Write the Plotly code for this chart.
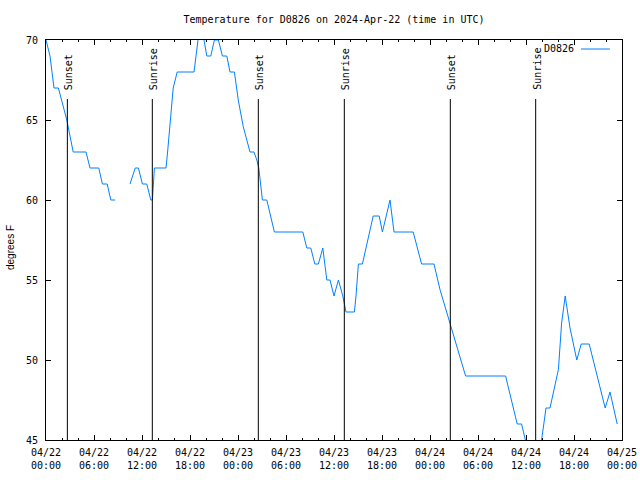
import pandas as pd
import plotly.graph_objects as go

# ---- data (hours since 2024-04-22 00:00 UTC) ----
hours = [0.0, 0.5, 1.0, 1.55, 2.6, 3.4, 5.0, 5.5, 6.6, 7.05, 7.65, 8.1, 8.65, 9.5,
         10.5, 11.15, 11.55, 12.05, 12.6, 13.1, 13.3, 13.55, 15.0, 15.2, 15.9, 16.4,
         18.5, 19.0, 19.4, 19.75, 20.1, 20.6, 21.05, 21.55, 22.05, 22.6, 23.0, 23.55,
         24.05, 24.65, 25.5, 26.0, 26.35, 26.6, 27.05, 27.6, 28.55, 32.1, 32.6, 33.1,
         33.6, 34.05, 34.6, 35.1, 35.5, 36.0, 36.55, 37.1, 37.5, 38.55, 38.75, 39.05,
         39.55, 40.9, 41.65, 42.05, 43.0, 43.5, 45.9, 46.95, 48.5, 49.25, 50.5, 51.25,
         52.45, 57.45, 58.9, 59.45, 59.95, 60.4, 61.5, 61.95, 62.5, 63.0, 64.05, 64.45,
         64.9, 65.5, 66.35, 66.9, 67.9, 69.9, 70.5, 71.4]
temps = [70, 69, 67, 67, 65, 63, 63, 62, 62, 61, 61, 60, 60, None,
         61, 62, 62, 61, 61, 60, 60, 62, 62, 63, 67, 68,
         68, 70, 71, 70, 69, 69, 70, 70, 69, 69, 68, 68,
         66.2, 64.6, 63, 63, 62.5, 62, 60, 60, 58, 58, 57, 57,
         56, 56, 57, 55, 55, 54, 55, 54, 53, 53, 54, 56,
         56, 59, 59, 58, 60, 58, 58, 56, 56, 54.4, 52.3, 51,
         49, 49, 46, 46, 45, 44, 44, 45, 47, 47, 49.4, 52.3,
         54, 52, 50, 51, 51, 47, 48, 46]

sun_hours = [2.67, 13.29, 26.54, 37.29, 50.54, 61.21]
sun_labels = ["Sunset", "Sunrise", "Sunset", "Sunrise", "Sunset", "Sunrise"]

tick_hours = [0, 6, 12, 18, 24, 30, 36, 42, 48, 54, 60, 66, 72]
tick_labels = ["04/22<br>00:00", "04/22<br>06:00", "04/22<br>12:00", "04/22<br>18:00",
               "04/23<br>00:00", "04/23<br>06:00", "04/23<br>12:00", "04/23<br>18:00",
               "04/24<br>00:00", "04/24<br>06:00", "04/24<br>12:00", "04/24<br>18:00",
               "04/25<br>00:00"]
y_ticks = [45, 50, 55, 60, 65, 70]

base = pd.Timestamp("2024-04-22 00:00")
to_time = lambda hs: [base + pd.Timedelta(hours=h) for h in hs]

MONO = "DejaVu Sans Mono"
BLUE = "#0080ff"

fig = go.Figure()
fig.add_trace(go.Scatter(x=to_time(hours), y=temps, mode="lines",
                         line=dict(color=BLUE, width=1), connectgaps=False,
                         name="D0826", showlegend=False))

shapes = []
annotations = []
for t, lab in zip(to_time(sun_hours), sun_labels):
    shapes.append(dict(type="line", xref="x", yref="paper", x0=t, x1=t, y0=0, y1=0.8525,
                       line=dict(color="black", width=1)))
    annotations.append(dict(x=t, y=0.87, xref="x", yref="paper", text=lab, textangle=-90,
                            showarrow=False, xanchor="center", yanchor="bottom", xshift=1,
                            font=dict(family=MONO, size=10, color="black")))

# legend (gnuplot style: text then sample line)
annotations.append(dict(x=0.920, y=0.98, xref="paper", yref="paper", text="D0826",
                        showarrow=False, xanchor="right", yanchor="middle",
                        font=dict(family=MONO, size=10, color="black")))
shapes.append(dict(type="line", xref="paper", yref="paper", x0=0.9288, x1=0.979,
                   y0=0.9775, y1=0.9775, line=dict(color=BLUE, width=1)))

# y-axis title
annotations.append(dict(x=-0.0625, y=0.48, xref="paper", yref="paper", text="degrees F",
                        textangle=-90, showarrow=False, xanchor="center", yanchor="middle",
                        font=dict(family="Liberation Sans", size=10, color="black")))

fig.update_layout(
    width=640, height=480,
    margin=dict(l=46, r=18, t=40, b=40, autoexpand=False),
    paper_bgcolor="white", plot_bgcolor="white",
    title=dict(text="Temperature for D0826 on 2024-Apr-22 (time in UTC)",
               x=0.5, xref="paper", xanchor="center", y=1 - 19 / 480, yanchor="middle",
               font=dict(family=MONO, size=10, color="black")),
    font=dict(family=MONO, size=10, color="black"),
    shapes=shapes, annotations=annotations, showlegend=False,
)
fig.update_xaxes(
    range=[base, base + pd.Timedelta(hours=72)], automargin=False,
    tickvals=to_time(tick_hours), ticktext=tick_labels,
    showgrid=False, zeroline=False,
    showline=True, linecolor="black", linewidth=1, mirror="allticks",
    ticks="inside", ticklen=5, tickcolor="black", tickwidth=1, ticklabelstandoff=3,
    minor=dict(dtick=2 * 3600000, ticks="inside", ticklen=2, tickcolor="black", showgrid=False),
    tickfont=dict(family=MONO, size=10, color="black"),
)
fig.update_yaxes(
    range=[45, 70], tickvals=y_ticks, automargin=False,
    showgrid=False, zeroline=False,
    showline=True, linecolor="black", linewidth=1, mirror="allticks",
    ticks="inside", ticklen=5, tickcolor="black", tickwidth=1, ticklabelstandoff=5,
    tickfont=dict(family=MONO, size=10, color="black"),
)

fig.write_html("out.html")
